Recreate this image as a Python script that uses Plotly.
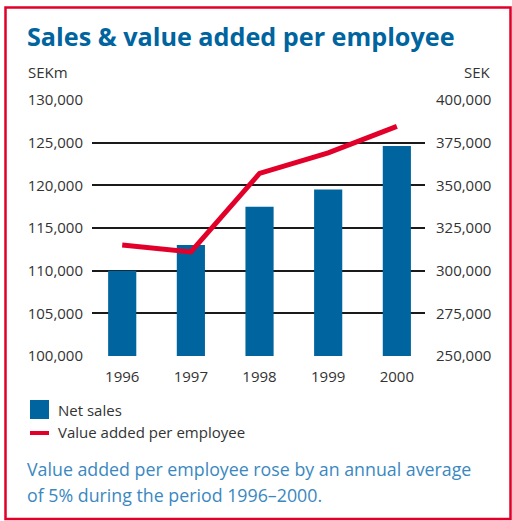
import plotly.graph_objects as go

# Data
years = ["1996", "1997", "1998", "1999", "2000"]
net_sales = [110000, 113000, 117500, 119500, 124600]          # SEKm
value_added = [315000, 311000, 357000, 369000, 384500]        # SEK per employee
left_ticks = [100000, 105000, 110000, 115000, 120000, 125000, 130000]
right_ticks = [250000, 275000, 300000, 325000, 350000, 375000, 400000]

W, H = 512, 521
ML, MR, MT, MB = 92, 87, 100, 165
PW, PH = W - ML - MR, H - MT - MB


def px(x):
    return (x - ML) / PW


def py(y):
    return (H - MB - y) / PH


BLUE = "#00649f"
RED = "#e2002b"
TEXT = "#333333"
CAPTION = "#3a88bf"
FONT = "Open Sans, Liberation Sans, sans-serif"

fig = go.Figure()
fig.add_trace(go.Bar(x=years, y=net_sales, name="Net sales",
                     marker=dict(color=BLUE, line=dict(width=0)),
                     width=0.41, yaxis="y"))
fig.add_trace(go.Scatter(x=years, y=value_added, name="Value added per employee",
                         mode="lines", line=dict(color=RED, width=5),
                         yaxis="y2"))

shapes = [
    # outer frame
    dict(type="rect", xref="paper", yref="paper",
         x0=px(5.5), x1=px(510.5), y0=py(519), y1=py(7.5),
         line=dict(color=RED, width=2.5), layer="below"),
    # legend keys
    dict(type="rect", xref="paper", yref="paper",
         x0=px(30), x1=px(49), y0=py(419), y1=py(400),
         fillcolor=BLUE, line=dict(width=0)),
    dict(type="line", xref="paper", yref="paper",
         x0=px(30), x1=px(49), y0=py(433), y1=py(433),
         line=dict(color=RED, width=4)),
]

annotations = [
    dict(text="<b>Sales & value added per employee</b>", x=px(25), y=py(36),
         xanchor="left", yanchor="middle",
         font=dict(family=FONT, size=25.2, color=BLUE)),
    dict(text="SEKm", x=px(26), y=py(72), xanchor="left", yanchor="middle",
         font=dict(family=FONT, size=15, color=TEXT)),
    dict(text="SEK", x=px(493), y=py(72), xanchor="right", yanchor="middle",
         font=dict(family=FONT, size=15, color=TEXT)),
    dict(text="Net sales", x=px(56), y=py(410), xanchor="left", yanchor="middle",
         font=dict(family=FONT, size=15, color=TEXT)),
    dict(text="Value added per employee", x=px(56), y=py(432), xanchor="left",
         yanchor="middle", font=dict(family=FONT, size=15, color=TEXT)),
    dict(text="Value added per employee rose by an annual average",
         x=px(25), y=py(469), xanchor="left", yanchor="middle",
         font=dict(family=FONT, size=17.8, color=CAPTION)),
    dict(text="of 5% during the period 1996\u20132000.",
         x=px(25), y=py(495), xanchor="left", yanchor="middle",
         font=dict(family=FONT, size=17.8, color=CAPTION)),
]
for a in annotations:
    a.update(xref="paper", yref="paper", showarrow=False)

fig.update_layout(
    width=W, height=H,
    margin=dict(l=ML, r=MR, t=MT, b=MB, pad=0),
    paper_bgcolor="white", plot_bgcolor="white",
    showlegend=False,
    shapes=shapes, annotations=annotations,
    xaxis=dict(range=[-0.44, 4.41], showgrid=False, zeroline=False,
               showline=False, ticks="", ticklabelstandoff=10,
               tickfont=dict(family=FONT, size=15, color=TEXT)),
    yaxis=dict(range=[100000, 130000], tickvals=left_ticks, tickformat=",",
               showgrid=True, gridcolor="#1a1a1a", gridwidth=1.5,
               zeroline=False, showline=False, ticks="",
               ticklabelstandoff=8,
               tickfont=dict(family=FONT, size=15, color=TEXT)),
    yaxis2=dict(range=[250000, 400000], tickvals=right_ticks, tickformat=",",
                overlaying="y", side="right", showgrid=False,
                zeroline=False, showline=False, ticks="",
                ticklabelstandoff=10,
                tickfont=dict(family=FONT, size=15, color=TEXT)),
)

fig.write_html("out.html")
